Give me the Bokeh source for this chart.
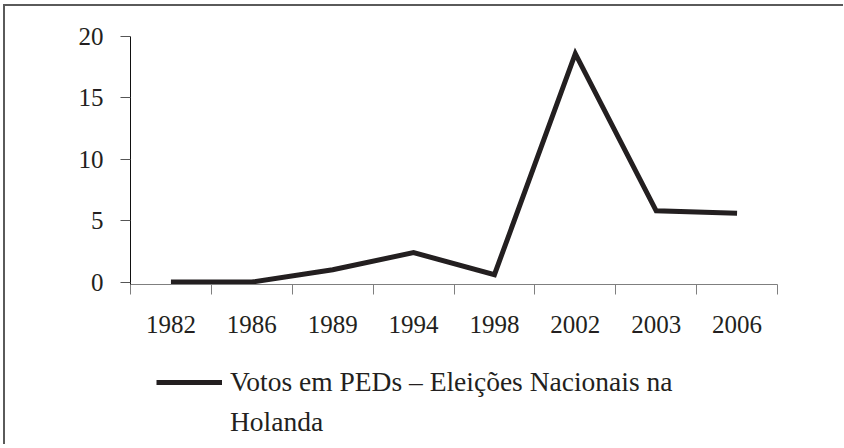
from bokeh.plotting import figure
from bokeh.layouts import column
from bokeh.models import Range1d, FixedTicker, Legend, LegendItem, ColumnDataSource
from bokeh.embed import file_html
from bokeh.resources import INLINE

years = ["1982", "1986", "1989", "1994", "1998", "2002", "2003", "2006"]
votes = [0.0, 0.0, 1.0, 2.4, 0.6, 18.6, 5.8, 5.6]
y_ticks = [0, 5, 10, 15, 20]
legend_line1 = "Votos em PEDs – Eleições Nacionais na"
legend_line2 = "Holanda"

FONT = "Liberation Serif"
INK = "#231f20"

n = len(years)
src = ColumnDataSource(dict(x=[i + 0.5 for i in range(n)], y=votes, year=years))

# ---- chart ----
p = figure(width=838, height=350,
           output_backend="svg", toolbar_location=None,
           x_range=Range1d(0, n), y_range=Range1d(-0.2, 20),
           min_border_left=125, min_border_right=66, min_border_top=30, min_border_bottom=72)
p.outline_line_color = None
p.grid.visible = False
p.background_fill_color = "white"
p.border_fill_color = "white"

p.line("x", "y", source=src, line_color=INK, line_width=5, line_join="miter")

# x axis: labels at category centres, ticks at category boundaries
xa = p.xaxis[0]
xa.ticker = FixedTicker(ticks=src.data["x"], minor_ticks=list(range(n + 1)))
xa.major_label_overrides = {x: y for x, y in zip(src.data["x"], years)}
xa.major_tick_out = 0
xa.major_tick_in = 0
xa.minor_tick_out = 10
xa.minor_tick_in = 0
xa.minor_tick_line_color = "#7f7f7f"
xa.axis_line_color = "#7f7f7f"
xa.major_label_standoff = 21
xa.major_label_text_font = FONT
xa.major_label_text_font_size = "25px"
xa.major_label_text_color = INK

ya = p.yaxis[0]
ya.ticker = FixedTicker(ticks=y_ticks, minor_ticks=[])
ya.major_tick_out = 10
ya.major_tick_in = 0
ya.major_tick_line_color = "#555555"
ya.axis_line_color = "#111111"
ya.major_label_standoff = 17
ya.major_label_text_font = FONT
ya.major_label_text_font_size = "25px"
ya.major_label_text_color = INK

# ---- legend strip (same series, its data lies outside this strip's view) ----
q = figure(width=838, height=88, output_backend="svg", toolbar_location=None,
           x_axis_type=None, y_axis_type=None,
           x_range=Range1d(0, n), y_range=Range1d(-3, -2),
           min_border=0)
q.outline_line_color = None
q.grid.visible = False
q.background_fill_color = "white"
q.border_fill_color = "white"

k1 = q.line("x", "y", source=src, line_color=INK, line_width=5)
k2 = q.line("x", "y", source=src, line_color=INK, line_alpha=0)

legend = Legend(items=[LegendItem(label=legend_line1, renderers=[k1]),
                       LegendItem(label=legend_line2, renderers=[k2])],
                location=(26, 2), orientation="vertical",
                glyph_width=66, glyph_height=40, label_standoff=8, label_height=40,
                padding=0, margin=0, spacing=0,
                border_line_color=None, background_fill_alpha=0,
                label_text_font=FONT, label_text_font_size="27.5px",
                label_text_color=INK)
q.add_layout(legend, "center")

layout = column(p, q, spacing=0)
layout.styles = {"margin-left": "3px", "margin-top": "4px",
                 "border-left": "2px solid #5a5a5a", "border-top": "2px solid #5a5a5a"}

open("out.html", "w").write(file_html(layout, INLINE))
